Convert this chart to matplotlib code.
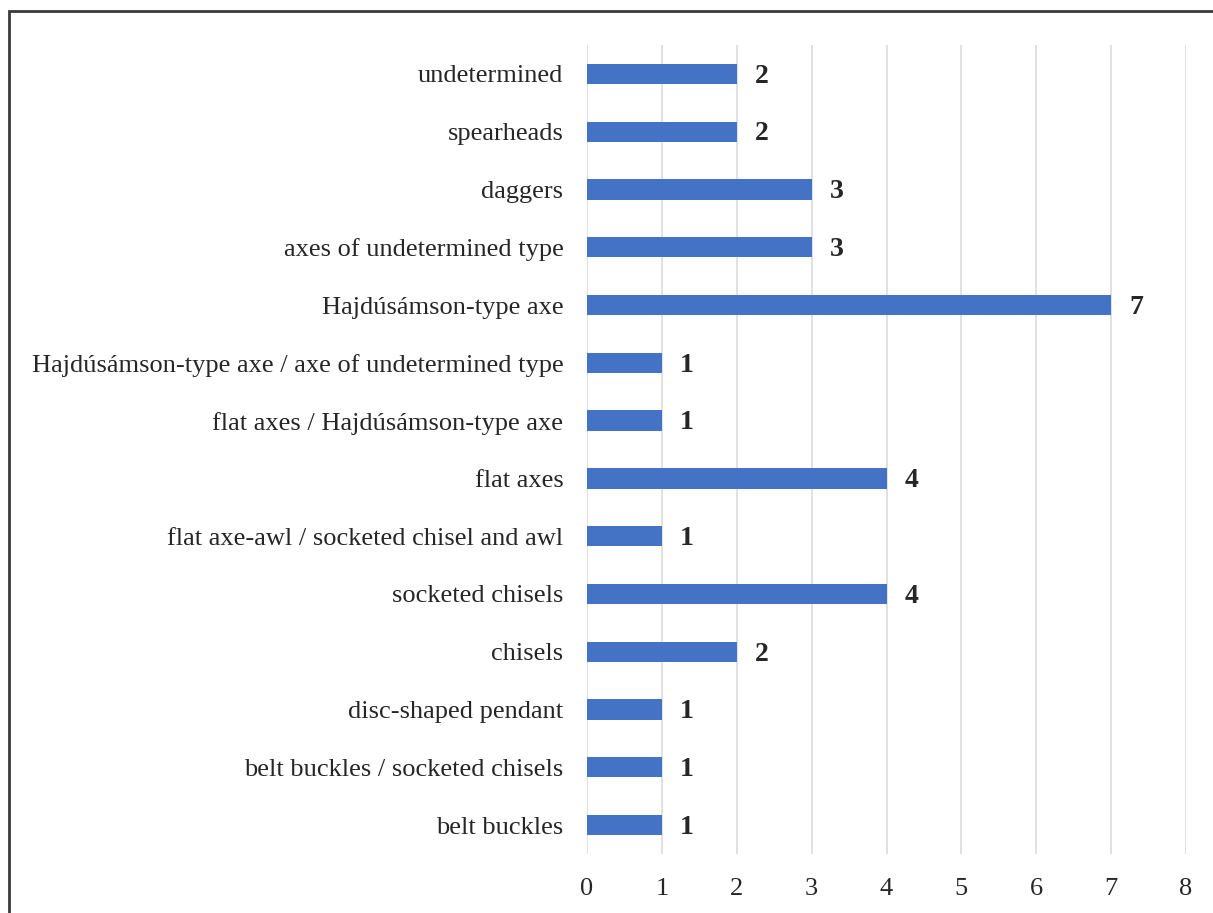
import matplotlib
matplotlib.use("Agg")
import matplotlib.pyplot as plt
from matplotlib.patches import Rectangle

categories = [
    "undetermined",
    "spearheads",
    "daggers",
    "axes of undetermined type",
    "Hajdúsámson-type axe",
    "Hajdúsámson-type axe / axe of undetermined type",
    "flat axes / Hajdúsámson-type axe",
    "flat axes",
    "flat axe-awl / socketed chisel and awl",
    "socketed chisels",
    "chisels",
    "disc-shaped pendant",
    "belt buckles / socketed chisels",
    "belt buckles",
]
counts = [2, 2, 3, 3, 7, 1, 1, 4, 1, 4, 2, 1, 1, 1]
x_ticks = [0, 1, 2, 3, 4, 5, 6, 7, 8]

plt.rcParams["font.family"] = ["Liberation Serif", "DejaVu Serif"]

W, H = 1213, 913
fig = plt.figure(figsize=(W / 100, H / 100), dpi=100)
left, right = 587 / W, 1186 / W
bottom, top = 1 - 854 / H, 1 - 45 / H
ax = fig.add_axes([left, bottom, right - left, top - bottom])

bar_color = "#4472C4"
text_color = "#262626"
pos = list(range(len(categories)))
ax.barh(pos, counts, height=0.35, color=bar_color, zorder=3)
ax.set_ylim(len(categories) - 0.5, -0.5)
ax.set_xlim(x_ticks[0], x_ticks[-1])
ax.set_xticks(x_ticks)
ax.set_yticks(pos)
ax.set_yticklabels(categories)

for p, v in zip(pos, counts):
    ax.text(v + 0.24, p + 0.04, str(v), va="center", ha="left", fontsize=20,
            fontweight="bold", color=text_color)

ax.grid(axis="x", color="#dedede", linewidth=1.3, zorder=0)
for s in ax.spines.values():
    s.set_visible(False)
ax.tick_params(axis="both", length=0, labelsize=19, colors=text_color)
ax.tick_params(axis="y", pad=17)
ax.tick_params(axis="x", pad=17)

# outer frame (right and bottom edges fall outside the canvas)
fig.patches.append(Rectangle((9 / W, -0.05), 1.2, 1 - 11 / H + 0.05,
                             transform=fig.transFigure, fill=False,
                             edgecolor="#3a3a3a", linewidth=2.0))

fig.savefig("out.png", dpi=100)
